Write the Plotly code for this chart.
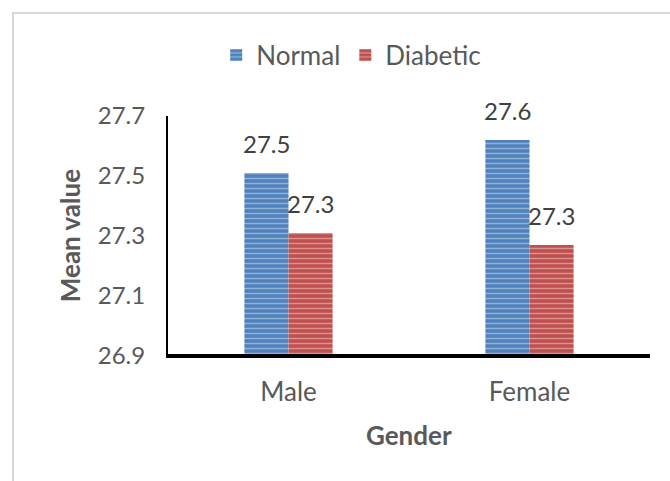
import plotly.graph_objects as go

# Mean values by gender for each group
genders = ["Male", "Female"]
normal_vals = [27.51, 27.62]
diabetic_vals = [27.31, 27.27]
y_ticks = [26.9, 27.1, 27.3, 27.5, 27.7]

FONT = "Lato"
TXT = "#595959"
BLUE = "#4F81BD"
RED = "#C0504D"

fig = go.Figure()
for name, vals, col in [("Normal", normal_vals, BLUE), ("Diabetic", diabetic_vals, RED)]:
    fig.add_trace(go.Bar(
        name=name, x=genders, y=vals,
        marker=dict(color=col, line=dict(width=0),
                    pattern=dict(shape="-", fgcolor="rgba(255,255,255,0.75)",
                                 bgcolor=col, size=5, solidity=0.3)),
        cliponaxis=True,
    ))

# value labels above each bar
bar_px = 44
for vals, dx in [(normal_vals, -bar_px / 2), (diabetic_vals, bar_px / 2)]:
    for g, v in zip(genders, vals):
        fig.add_annotation(x=g, y=v, xref="x", yref="y", text=f"{v:.1f}",
                           showarrow=False, xshift=dx, yshift=30, yanchor="middle",
                           font=dict(family=FONT, size=24, color="#404040"))

# axis titles
fig.add_annotation(x=-0.203, y=0.5, xref="paper", yref="paper", text="<b>Mean value</b>",
                   textangle=-90, showarrow=False, xanchor="center", yanchor="middle",
                   font=dict(family=FONT, size=26, color=TXT))
fig.add_annotation(x=0.5, y=-0.33, xref="paper", yref="paper", text="<b>Gender</b>",
                   showarrow=False, xanchor="center", yanchor="middle",
                   font=dict(family=FONT, size=26, color=TXT))

# outer chart frame
fig.add_shape(type="rect", xref="paper", yref="paper", layer="below",
              x0=(13 - 168) / 482, x1=1.2, y0=-1.0, y1=1 + (116 - 13) / 240,
              line=dict(color="#D9D9D9", width=2), fillcolor="rgba(0,0,0,0)")

# heavy baseline along the category axis, ending at the plot edge
fig.add_shape(type="line", xref="paper", yref="paper", layer="above",
              x0=-0.004, x1=1.0, y0=0, y1=0, line=dict(color="black", width=4))

fig.update_layout(
    width=670, height=481,
    margin=dict(l=168, r=20, t=116, b=125),
    paper_bgcolor="white", plot_bgcolor="white",
    barmode="group", bargap=0.634, bargroupgap=0,
    font=dict(family=FONT, size=24, color=TXT),
    showlegend=True,
    legend=dict(orientation="h", x=0.1, xanchor="left", y=1.254, yanchor="middle",
                font=dict(family=FONT, size=26, color=TXT), itemwidth=30,
                traceorder="normal", bgcolor="rgba(0,0,0,0)"),
    xaxis=dict(range=[-0.5, 1.5], showline=False,
               ticks="", showgrid=False, ticklabelstandoff=18,
               tickfont=dict(family=FONT, size=26, color=TXT)),
    yaxis=dict(range=[26.9, 27.7], tickvals=y_ticks, ticktext=[f"{t:.1f}" for t in y_ticks],
               showline=True, linecolor="black", linewidth=2, ticks="", showgrid=False,
               zeroline=False, ticklabelstandoff=16,
               tickfont=dict(family=FONT, size=24, color=TXT)),
)

fig.write_html("out.html")
